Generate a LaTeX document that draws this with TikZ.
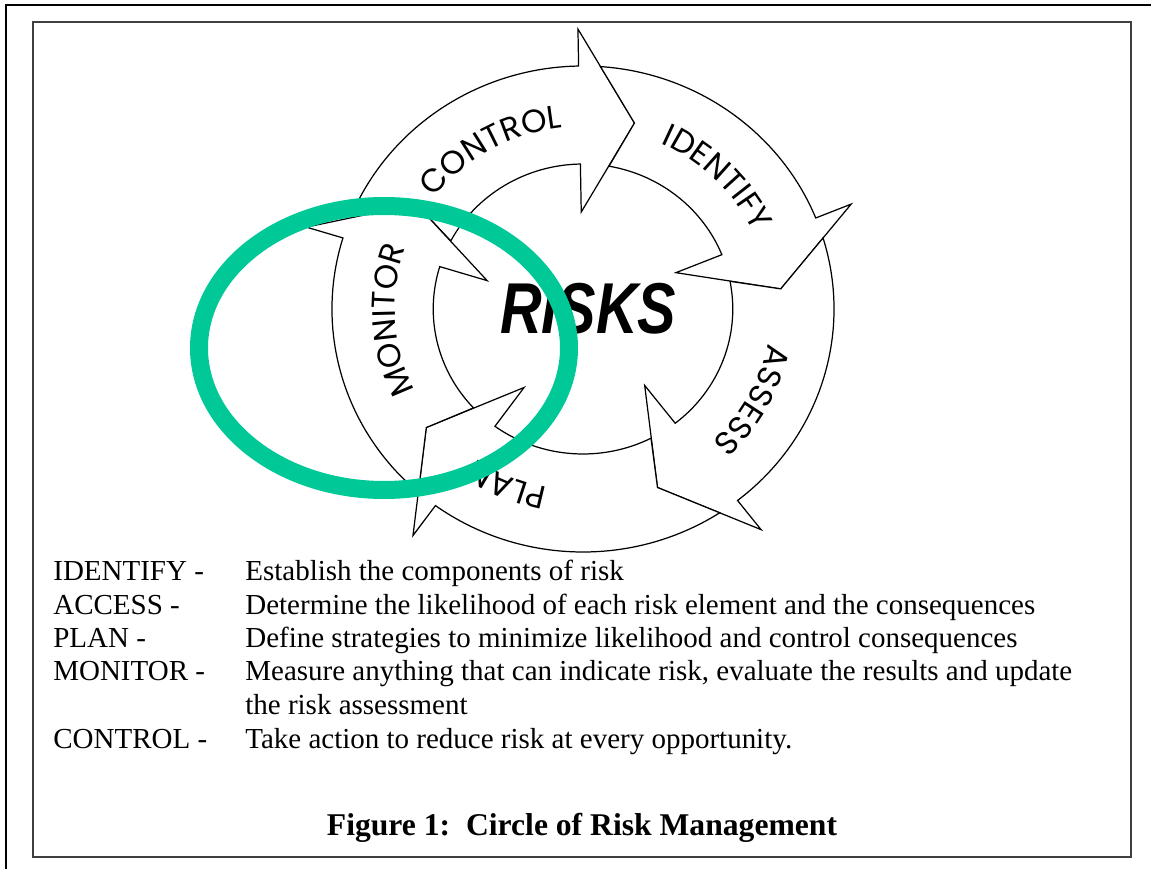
\documentclass[tikz,border=0pt]{standalone}
\usepackage{fontspec}
\setmainfont{Liberation Serif}
\newfontfamily\ringfont{Poppins}
\newfontfamily\riskfont{Liberation Sans}
\usetikzlibrary{decorations.text}
\definecolor{ringgreen}{RGB}{0,201,151}

\begin{document}
\begin{tikzpicture}[
    arrowpart/.style={draw=black, fill=white, line width=0.7pt, line join=miter},
    ringlabel/.style={decorate, decoration={text along path, text align=center,
        text={|\ringfont\fontsize{18.5}{18.5}\selectfont|#1}}},
    desc/.style={anchor=base west, inner sep=0pt, font=\fontsize{16.5}{19}\selectfont}
  ]
  \useasboundingbox (0,0) rectangle (23.02,-17.38);
  % page frame
  \draw[line width=1.1pt] (0.12,-17.38) -- (0.12,-0.1) -- (23.02,-0.1);
  \draw[line width=0.8pt, black!75] (0.66,-0.44) rectangle (22.62,-17.14);

  \begin{scope}[shift={(11.66,-6.18)}, xscale=1.033]
    \def\ro{4.86} \def\ri{2.9} \def\rw{5.6} \def\rt{3.85} \def\rn{1.94} \def\rb{3.64}
    % five arrows: head base angle / head base angle of the arrow before
    \foreach \b/\p in {91/163, 22/91, -52/22, -126/-52, 163/234}
      \draw[arrowpart] (\p-5:\ro) arc[start angle=\p-5, end angle=\b, radius=\ro]
        -- (\b:\rw) -- (\b-16:\rt) -- (\b:\rn) -- (\b:\ri)
        arc[start angle=\b, end angle=\p-11, radius=\ri]
        -- (\p-16:\rt) -- cycle;
    % labels on the ring
    \path[ringlabel=CONTROL] (159.5:\rb) arc[start angle=159.5, end angle=79.5, radius=\rb];
    \path[ringlabel=IDENTIFY] (85:\rb) arc[start angle=85, end angle=5, radius=\rb];
    \path[ringlabel=ASSESS] (11.5:\rb) arc[start angle=11.5, end angle=-68.5, radius=\rb];
    \path[ringlabel=PLAN] (-73:\rb) arc[start angle=-73, end angle=-153, radius=\rb];
    \path[ringlabel=MONITOR] (223.5:\rb) arc[start angle=223.5, end angle=143.5, radius=\rb];
    \node[font=\riskfont\bfseries\itshape\fontsize{41}{41}\selectfont, xscale=0.8,
      inner sep=0pt] (risks) at (0.1,0) {RISKS};
  \end{scope}

  % legend
  \node[desc] (identify) at (1.06,-11.6) {IDENTIFY -};
  \node[desc] (identifytxt) at (4.9,-11.6) {Establish the components of risk};
  \node[desc] (access) at (1.06,-12.28) {ACCESS -};
  \node[desc] (accesstxt) at (4.9,-12.28) {Determine the likelihood of each risk element and the consequences};
  \node[desc] (plan) at (1.06,-12.94) {PLAN -};
  \node[desc] (plantxt) at (4.9,-12.94) {Define strategies to minimize likelihood and control consequences};
  \node[desc] (monitor) at (1.06,-13.6) {MONITOR -};
  \node[desc] (monitortxt) at (4.9,-13.6) {Measure anything that can indicate risk, evaluate the results and update};
  \node[desc] (monitortxtb) at (4.9,-14.28) {the risk assessment};
  \node[desc] (control) at (1.06,-14.96) {CONTROL -};
  \node[desc] (controltxt) at (4.9,-14.96) {Take action to reduce risk at every opportunity.};

  \node[font=\bfseries\fontsize{18}{20}\selectfont, anchor=base, inner sep=0pt] (caption)
    at (11.64,-16.7) {Figure 1:\ \ Circle of Risk Management};

  % green mark
  \draw[line width=0.36cm, ringgreen] (7.68,-6.96) ellipse[x radius=3.7, y radius=2.84];
\end{tikzpicture}
\end{document}
